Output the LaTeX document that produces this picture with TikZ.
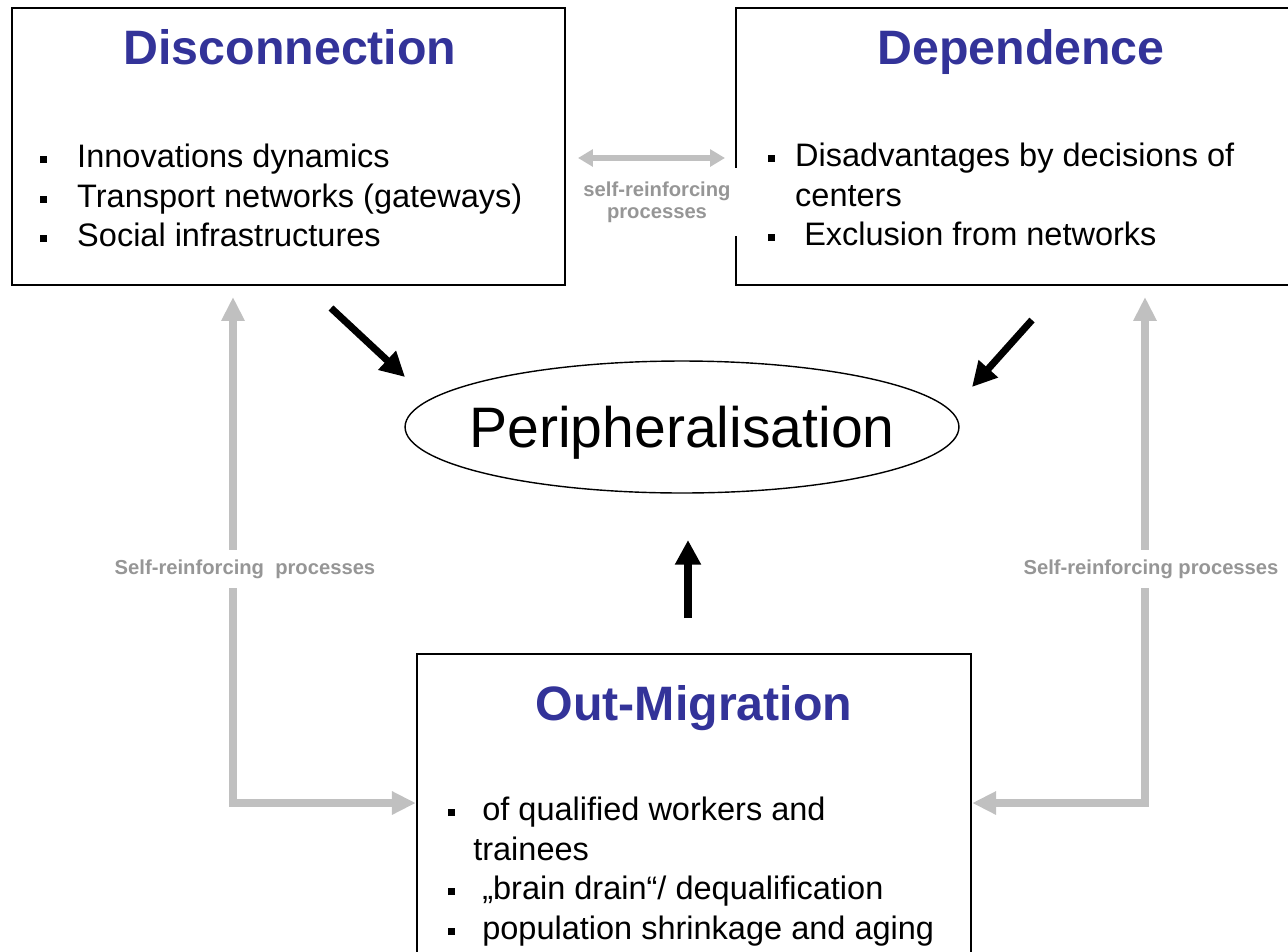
\documentclass[tikz,border=0pt]{standalone}
\usepackage{fontspec}
\setmainfont{Liberation Sans}
\usetikzlibrary{arrows.meta,shapes.geometric}
\definecolor{titleblue}{RGB}{51,51,153}
\definecolor{arrowgray}{RGB}{192,192,192}
\definecolor{labelgray}{RGB}{150,150,150}
\newcommand{\sqbul}{\raisebox{0.15em}{\rule{4pt}{4pt}}}
\newcommand{\itm}[1]{\makebox[#1][l]{\sqbul}}
\tikzset{
  box/.style={draw, line width=1.4pt, fill=white, inner sep=0pt},
  boxtitle/.style={anchor=base, text=titleblue, font=\fontsize{27.5}{33}\selectfont\bfseries},
  boxlist/.style={anchor=north west, align=left, inner sep=0pt, font=\fontsize{18.5}{22.5}\selectfont},
  graylabel/.style={fill=white, text=labelgray, font=\fontsize{11.5}{12.5}\selectfont\bfseries},
  grayarrow/.style={draw=arrowgray, line width=4.5pt, {Triangle[length=13.6pt,width=12.5pt]}-{Triangle[length=13.6pt,width=12.5pt]}},
  grayarrowthin/.style={draw=arrowgray, line width=3.4pt, {Triangle[length=8.5pt,width=9.5pt]}-{Triangle[length=8.5pt,width=9.5pt]}},
  blackarrow/.style={line width=4pt, -{Triangle[length=14pt,width=14pt]}}
}
\begin{document}
\begin{tikzpicture}[x=0.02cm,y=-0.02cm]
\useasboundingbox (0,0) rectangle (1288,951); \clip (0,0) rectangle (1288,951);
\node[box, minimum width=11.06cm, minimum height=5.54cm] (disc) at (288.5,146.5) {};
\node[box, minimum width=11.4cm, minimum height=5.54cm] (dep) at (1021,146.5) {};
\node[box, minimum width=11.08cm, minimum height=6.42cm] (migr) at (694,814.5) {};
\node[draw, ellipse, line width=0.8pt, minimum width=11.08cm, minimum height=2.64cm, inner sep=0pt] (peri) at (682,427) {};
\node[text depth=0pt, font=\fontsize{32.5}{38}\selectfont] (perit) at (peri) {Peripheralisation};
\node[boxtitle] (disct) at (290,64) {Disconnection};
\node[boxtitle] (dept) at (1021,64) {Dependence};
\node[boxtitle] (migrt) at (694,720) {Out-Migration};
\node[boxlist] (discl) at (40,144) {\itm{21pt}Innovations dynamics\\ \itm{21pt}Transport networks (gateways)\\ \itm{21pt}Social infrastructures};
\node[boxlist] (depl) at (768,143) {\itm{15.3pt}Disadvantages by decisions of\\ \hspace*{15.3pt}centers\\ \itm{15.3pt}\ Exclusion from networks};
\node[boxlist] (migrl) at (448,797) {\itm{14.2pt}\ of qualified workers and\\ \hspace*{14.2pt}trainees\\ \itm{14.2pt}\ „brain drain“/ dequalification\\ \itm{14.2pt}\ population shrinkage and aging};
\coordinate (lt) at (233,297); \coordinate (lb) at (233,803);
\coordinate (rt) at (1145,297); \coordinate (rb) at (1145,803);
\coordinate (dl) at (578,158); \coordinate (dr) at (725,158);
\draw[grayarrow] (lt) -- (lb) -- (lb -| migr.west);
\draw[grayarrow] (rt) -- (rb) -- (rb -| migr.east);
\draw[grayarrowthin] (dl) -- (dr);
\node[graylabel, inner ysep=5.5pt] (ll) at (245,569) {Self-reinforcing\ \ processes};
\node[graylabel, inner ysep=5.5pt] (rl) at (1151,569) {Self-reinforcing processes};
\node[graylabel, align=center, inner xsep=5pt, inner ysep=7.5pt] (tl) at (657,202) {self-reinforcing\\processes};
\coordinate (b1) at (331,308); \coordinate (e1) at (405,377);
\coordinate (b2) at (1032,320); \coordinate (e2) at (972,387);
\coordinate (b3) at (688,618); \coordinate (e3) at (688,540);
\foreach \i in {1,2,3} { \draw[blackarrow] (b\i) -- (e\i); };
\end{tikzpicture}
\end{document}
